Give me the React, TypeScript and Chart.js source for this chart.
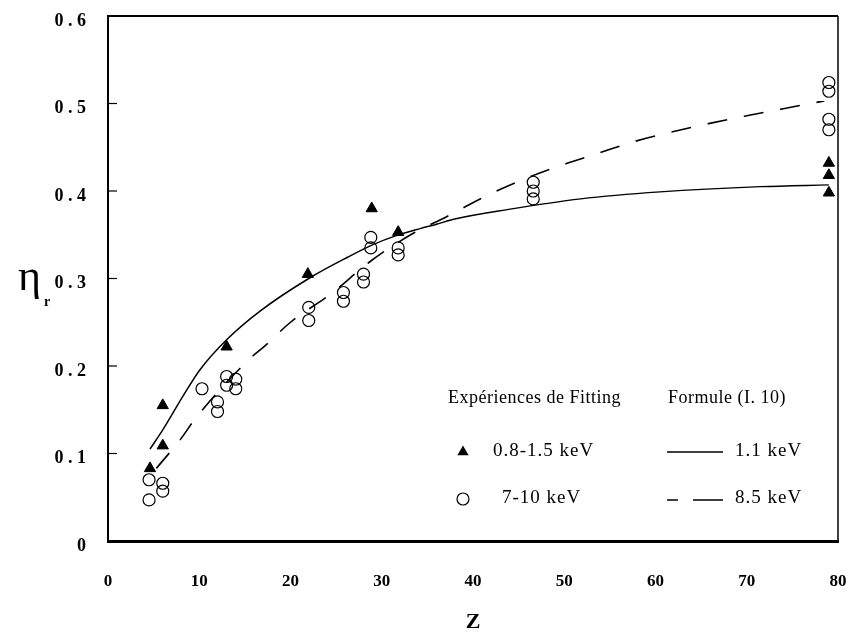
import React, { useEffect, useRef } from 'react';
import { Chart, registerables } from 'chart.js';

Chart.register(...registerables);

// ---- Data ----
// Experiments (fitting) 0.8-1.5 keV : filled triangles
const lowZ = [4.6, 6.0, 6.0, 13.0, 21.9, 28.9, 31.8, 79, 79, 79];
const lowEta = [0.083, 0.155, 0.109, 0.222, 0.305, 0.38, 0.353, 0.432, 0.418, 0.398];

// Experiments (fitting) 7-10 keV : open circles
const highZ = [4.5, 4.5, 6.0, 6.0, 10.3, 12.0, 12.0, 13.0, 13.0, 14.0, 14.0, 22.0, 22.0, 25.8, 25.8, 28.0, 28.0, 28.8, 28.8, 31.8, 31.8, 46.6, 46.6, 46.6, 79, 79, 79, 79];
const highEta = [0.07, 0.047, 0.066, 0.057, 0.174, 0.159, 0.148, 0.188, 0.178, 0.185, 0.174, 0.267, 0.252, 0.284, 0.274, 0.305, 0.296, 0.347, 0.335, 0.335, 0.327, 0.41, 0.4, 0.391, 0.524, 0.514, 0.482, 0.47];

// Formula (I.10), 1.1 keV : solid curve
const solidZ = [4.6, 6, 8.3, 10.1, 13, 16.7, 22, 26.2, 29.1, 31.6, 34.2, 36, 38, 43.9, 51.8, 60.5, 71.5, 79];
const solidEta = [0.105, 0.127, 0.167, 0.196, 0.23, 0.263, 0.3, 0.324, 0.339, 0.349, 0.357, 0.362, 0.368, 0.379, 0.391, 0.399, 0.405, 0.407];

// Formula (I.10), 8.5 keV : dashed curve
const dashedZ = [5.3, 8, 9.5, 15.4, 17.2, 20, 24.5, 28.8, 33.5, 37, 41, 45, 49.3, 53.4, 57.5, 61.6, 65.8, 70, 74, 78.5];
const dashedEta = [0.083, 0.117, 0.139, 0.207, 0.223, 0.25, 0.283, 0.32, 0.352, 0.37, 0.392, 0.411, 0.428, 0.442, 0.456, 0.467, 0.477, 0.486, 0.494, 0.503];

const xTicks = [0, 10, 20, 30, 40, 50, 60, 70, 80];
const yTicks = [0, 0.1, 0.2, 0.3, 0.4, 0.5, 0.6];

const legendHeaderLeft = 'Expériences de Fitting';
const legendHeaderRight = 'Formule (I. 10)';
const legendLow = '0.8-1.5 keV';
const legendHigh = '7-10 keV';
const legendSolid = '1.1 keV';
const legendDashed = '8.5 keV';
const xTitle = 'Z';
const yTitleMain = 'η';
const yTitleSub = 'r';

const SERIF = "'Liberation Serif', 'Times New Roman', serif";

const toPts = (xs: number[], ys: number[]) => xs.map((x, i) => ({ x, y: ys[i] }));

const zeroPad = (s: any) => {
  s.paddingLeft = 0;
  s.paddingRight = 0;
  s.paddingTop = 0;
  s.paddingBottom = 0;
};

const framePlugin = {
  id: 'frame',
  afterDraw(chart: any) {
    const { ctx, chartArea: a, scales } = chart;
    ctx.save();
    ctx.strokeStyle = '#000';
    // top and right borders
    ctx.lineWidth = 2;
    ctx.beginPath();
    ctx.moveTo(a.left, a.top);
    ctx.lineTo(a.right, a.top);
    ctx.stroke();
    ctx.lineWidth = 1.5;
    ctx.beginPath();
    ctx.moveTo(a.right, a.top);
    ctx.lineTo(a.right, a.bottom);
    ctx.stroke();
    // inward tick marks on the y axis
    ctx.lineWidth = 1.2;
    yTicks.forEach((v) => {
      if (v === 0 || v === 0.6) return;
      const y = scales.y.getPixelForValue(v);
      ctx.beginPath();
      ctx.moveTo(a.left, y);
      ctx.lineTo(a.left + 9, y);
      ctx.stroke();
    });

    // axis titles
    ctx.fillStyle = '#000';
    ctx.textBaseline = 'alphabetic';
    ctx.textAlign = 'left';
    ctx.font = `44px ${SERIF}`;
    ctx.fillText(yTitleMain, 18, 290);
    ctx.font = `bold 14px ${SERIF}`;
    ctx.fillText(yTitleSub, 44, 306);
    ctx.textAlign = 'center';
    ctx.font = `bold 22px ${SERIF}`;
    ctx.fillText(xTitle, 473, 628);

    // legend
    ctx.textAlign = 'left';
    ctx.textBaseline = 'middle';
    (ctx as any).letterSpacing = '0.5px';
    ctx.font = `18px ${SERIF}`;
    ctx.fillText(legendHeaderLeft, 448, 398);
    ctx.fillText(legendHeaderRight, 668, 398);
    (ctx as any).letterSpacing = '1px';
    ctx.font = `19px ${SERIF}`;
    ctx.fillText(legendLow, 493, 451);
    ctx.fillText(legendHigh, 502, 498);
    ctx.fillText(legendSolid, 735, 451);
    ctx.fillText(legendDashed, 735, 498);
    (ctx as any).letterSpacing = '0px';

    // legend markers
    const r = 6.5;
    ctx.beginPath();
    ctx.moveTo(463, 452 - r);
    ctx.lineTo(463 + r * 0.866, 452 + r * 0.5);
    ctx.lineTo(463 - r * 0.866, 452 + r * 0.5);
    ctx.closePath();
    ctx.fill();
    ctx.lineWidth = 1.2;
    ctx.beginPath();
    ctx.arc(463, 499, 6, 0, Math.PI * 2);
    ctx.stroke();
    // legend line samples
    ctx.lineWidth = 1.6;
    ctx.beginPath();
    ctx.moveTo(667, 452);
    ctx.lineTo(723, 452);
    ctx.stroke();
    ctx.beginPath();
    ctx.moveTo(667, 500);
    ctx.lineTo(678, 500);
    ctx.moveTo(693, 500);
    ctx.lineTo(723, 500);
    ctx.stroke();
    ctx.restore();
  },
};

export default function App() {
  const ref = useRef<HTMLCanvasElement | null>(null);

  useEffect(() => {
    if (!ref.current) return;
    const chart = new Chart(ref.current, {
      type: 'scatter',
      data: {
        datasets: [
          {
            label: 'Formule (I.10) 1.1 keV',
            data: toPts(solidZ, solidEta),
            showLine: true,
            borderColor: '#000',
            borderWidth: 1.5,
            pointRadius: 0,
            cubicInterpolationMode: 'monotone',
          },
          {
            label: 'Formule (I.10) 8.5 keV',
            data: toPts(dashedZ, dashedEta),
            showLine: true,
            borderColor: '#000',
            borderWidth: 1.6,
            borderDash: [20, 17],
            pointRadius: 0,
            cubicInterpolationMode: 'monotone',
          },
          {
            label: '0.8-1.5 keV',
            data: toPts(lowZ, lowEta),
            pointStyle: 'triangle',
            pointRadius: 6.5,
            backgroundColor: '#000',
            borderColor: '#000',
            borderWidth: 1,
          },
          {
            label: '7-10 keV',
            data: toPts(highZ, highEta),
            pointStyle: 'circle',
            pointRadius: 6,
            backgroundColor: 'rgba(0,0,0,0)',
            borderColor: '#000',
            borderWidth: 1.2,
          },
        ],
      },
      options: {
        animation: false,
        responsive: false,
        devicePixelRatio: 1,
        layout: { padding: { top: 16, right: 14, left: 0, bottom: 0 } },
        plugins: {
          legend: { display: false },
          tooltip: { enabled: false },
          title: { display: false },
        },
        scales: {
          x: {
            type: 'linear',
            min: 0,
            max: 80,
            afterFit: (s: any) => {
              s.height = 96;
              zeroPad(s);
            },
            afterBuildTicks: (s: any) => {
              s.ticks = xTicks.map((v) => ({ value: v }));
            },
            grid: { display: true, drawOnChartArea: false, drawTicks: false },
            border: { display: true, color: '#000', width: 3 },
            ticks: {
              color: '#000',
              padding: 30,
              font: { family: SERIF, size: 17, weight: 'bold' },
              callback: (v: any) => String(v),
            },
          },
          y: {
            type: 'linear',
            min: 0,
            max: 0.6,
            afterFit: (s: any) => {
              s.width = 108;
              zeroPad(s);
            },
            afterBuildTicks: (s: any) => {
              s.ticks = yTicks.map((v) => ({ value: v }));
            },
            grid: { display: true, drawOnChartArea: false, drawTicks: false },
            border: { display: true, color: '#000', width: 2 },
            ticks: {
              color: '#000',
              padding: 22,
              labelOffset: 5,
              font: { family: SERIF, size: 18, weight: 'bold' },
              callback: (v: any) => {
                const n = Number(v);
                if (n === 0) return '0';
                const s = n.toFixed(1);
                return s.split('').join(' ');
              },
            },
          },
        },
      },
      plugins: [framePlugin],
    } as any);
    return () => chart.destroy();
  }, []);

  return (
    <div style={{ position: 'fixed', left: 0, top: 0, width: 852, height: 637, background: '#fff' }}>
      <canvas ref={ref} width={852} height={637} style={{ width: 852, height: 637, display: 'block' }} />
    </div>
  );
}
